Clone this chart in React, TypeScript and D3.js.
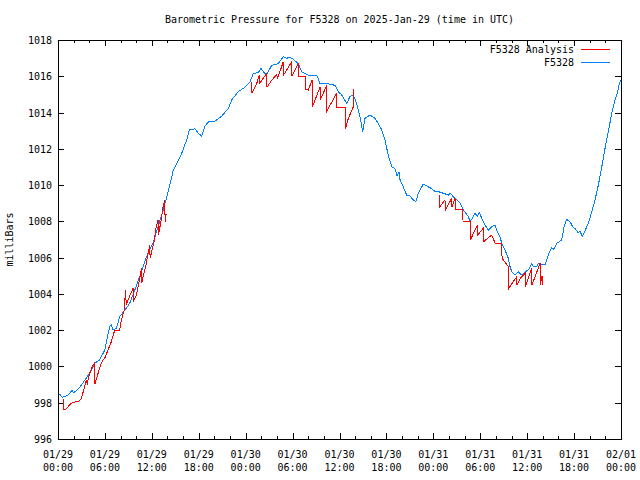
import React from "react";
import * as d3 from "d3";

const title = "Barometric Pressure for F5328 on 2025-Jan-29 (time in UTC)";
const yLabel = "milliBars";
const yTicks = [996, 998, 1000, 1002, 1004, 1006, 1008, 1010, 1012, 1014, 1016, 1018];
const xTickHours = [0, 6, 12, 18, 24, 30, 36, 42, 48, 54, 60, 66, 72];
const xTickDates = ["01/29", "01/29", "01/29", "01/29", "01/30", "01/30", "01/30", "01/30", "01/31", "01/31", "01/31", "01/31", "02/01"];
const xTickTimes = ["00:00", "06:00", "12:00", "18:00", "00:00", "06:00", "12:00", "18:00", "00:00", "06:00", "12:00", "18:00", "00:00"];
const seriesNames = ["F5328 Analysis", "F5328"];

// [hours since 01/29 00:00 UTC, pressure mb]
const stationSeries: [number, number][] = [
  [0.22, 998.48], [0.51, 998.3], [1.06, 998.37], [1.5, 998.5], [1.79, 998.7], [1.98, 998.55],
  [2.56, 998.74], [3.2, 999.1], [3.84, 999.5], [4.26, 999.8], [4.69, 1000.17], [5.33, 1000.36],
  [5.97, 1000.9], [6.61, 1002.2], [6.82, 1002.3], [7.03, 1002.0], [7.46, 1002.1], [7.89, 1002.74],
  [8.53, 1003.1], [9.17, 1003.48], [9.81, 1004.2], [10.45, 1004.95], [11.09, 1005.78], [11.51, 1006.24],
  [12.15, 1006.8], [12.79, 1007.7], [13.43, 1008.6], [14.07, 1009.6], [14.75, 1010.83], [15.82, 1011.75],
  [16.46, 1012.5], [16.79, 1013.04], [17.52, 1013.1], [17.94, 1012.86], [18.38, 1012.7], [18.8, 1013.26],
  [19.35, 1013.53], [20.08, 1013.53], [20.94, 1013.8], [21.78, 1014.23], [22.22, 1014.7], [23.06, 1015.15],
  [23.92, 1015.4], [24.56, 1015.7], [24.98, 1016.16], [25.62, 1016.2], [25.95, 1016.45], [26.33, 1016.2],
  [26.69, 1016.1], [27.33, 1016.6], [28.17, 1016.7], [28.81, 1017.08], [29.24, 1016.99], [29.66, 1017.05],
  [30.09, 1016.93], [30.73, 1016.7], [31.17, 1016.25], [32.01, 1016.07], [33.09, 1016.07], [33.51, 1015.6],
  [34.36, 1015.6], [35.43, 1015.5], [35.85, 1015.15], [36.28, 1014.97], [36.92, 1014.5], [37.34, 1014.88],
  [37.77, 1014.97], [38.2, 1014.5], [38.62, 1013.77], [38.97, 1012.94], [39.26, 1013.68], [39.9, 1013.86],
  [40.54, 1013.68], [40.96, 1013.4], [41.4, 1013.04], [41.82, 1012.5], [42.04, 1012.03], [42.33, 1011.5],
  [42.72, 1011.0], [43.1, 1010.9], [43.36, 1010.5], [43.61, 1010.7], [43.74, 1010.3], [44.16, 1009.9],
  [44.59, 1009.45], [45.01, 1009.4], [45.44, 1009.18], [45.78, 1009.1], [46.08, 1009.55], [46.72, 1010.06],
  [47.16, 1009.95], [47.79, 1009.8], [48.22, 1009.64], [48.64, 1009.64], [49.28, 1009.55], [49.92, 1009.45],
  [50.14, 1009.55], [50.56, 1009.36], [51.0, 1009.18], [51.42, 1009.0], [51.84, 1008.63], [52.48, 1008.26],
  [52.7, 1007.98], [53.12, 1008.26], [53.34, 1008.45], [53.63, 1008.26], [53.88, 1008.48], [54.19, 1008.17],
  [54.61, 1007.8], [55.03, 1007.52], [55.47, 1007.7], [55.89, 1007.8], [56.1, 1007.52], [56.53, 1007.15],
  [56.75, 1006.79], [57.17, 1006.42], [57.59, 1005.96], [57.81, 1005.5], [58.03, 1005.22], [58.45, 1005.04],
  [58.87, 1005.22], [59.31, 1005.04], [59.73, 1005.22], [60.15, 1005.32], [60.58, 1005.69], [60.79, 1005.5],
  [61.22, 1005.5], [61.43, 1005.69], [61.86, 1005.6], [62.28, 1005.6], [62.5, 1005.87], [62.7, 1006.15],
  [63.14, 1006.55], [63.43, 1006.46], [63.78, 1006.79], [64.11, 1006.88], [64.42, 1006.97], [64.72, 1007.7],
  [65.06, 1008.11], [65.48, 1007.98], [65.83, 1007.7], [66.12, 1007.6], [66.54, 1007.37], [66.76, 1007.45],
  [67.05, 1007.19], [67.4, 1007.48], [67.82, 1007.89], [68.26, 1008.53], [68.68, 1009.18], [69.1, 1010.0],
  [69.54, 1011.0], [69.96, 1012.03], [70.38, 1012.94], [70.81, 1013.96], [71.23, 1014.7], [71.53, 1015.06],
  [71.79, 1015.6], [72.0, 1015.8],
];

const analysisSeg1: [number, number][] = [
  [0.64, 998.19], [0.66, 997.6], [0.93, 997.6], [1.28, 997.78], [1.7, 997.97], [2.34, 998.06],
  [2.78, 998.11], [2.98, 998.24], [3.41, 998.88], [3.62, 999.25], [3.75, 999.0], [3.88, 999.35],
  [4.05, 999.62], [4.48, 1000.08], [4.69, 1000.2], [4.72, 999.03], [5.12, 999.62], [5.54, 1000.2],
  [5.76, 1000.36], [5.97, 1000.45], [6.39, 1000.9], [6.82, 1001.37], [7.25, 1002.0], [7.89, 1002.0],
  [8.1, 1002.56], [8.53, 1003.2], [8.6, 1004.2], [8.75, 1003.4], [9.17, 1003.9], [9.6, 1004.3],
  [9.65, 1003.6], [10.01, 1003.9], [10.45, 1004.86], [10.66, 1005.4], [10.7, 1004.6], [11.25, 1005.6],
  [11.73, 1006.7], [11.78, 1005.96], [12.28, 1006.88], [12.53, 1007.6], [12.79, 1008.08], [12.84, 1007.25],
  [13.17, 1008.0], [13.43, 1008.8], [13.65, 1009.18], [13.7, 1007.98], [13.75, 1008.4], [13.95, 1008.4],
];

const analysisSeg2: [number, number][] = [
  [24.77, 1015.7], [24.8, 1015.06], [25.41, 1015.6], [25.74, 1016.07], [25.78, 1015.6], [26.69, 1016.16],
  [26.73, 1015.4], [27.37, 1015.8], [27.96, 1016.1], [28.1, 1015.9], [28.81, 1016.8], [28.85, 1016.07],
  [29.88, 1016.8], [29.92, 1016.0], [30.73, 1016.7], [30.77, 1015.98], [31.59, 1015.98], [31.63, 1015.3],
  [32.01, 1015.24], [32.5, 1015.8], [32.54, 1014.32], [33.51, 1015.4], [33.55, 1014.7], [34.36, 1015.5],
  [34.4, 1014.1], [35.64, 1015.06], [35.68, 1014.3], [36.71, 1014.3], [36.75, 1013.1], [37.13, 1013.68],
  [37.77, 1014.32], [37.81, 1015.28], [37.85, 1014.7],
];

const analysisSeg3: [number, number][] = [
  [48.77, 1009.45], [48.81, 1008.8], [49.49, 1009.18], [49.53, 1008.63], [50.35, 1009.27], [50.39, 1008.8],
  [50.77, 1009.27], [50.81, 1008.66], [51.76, 1008.66], [51.8, 1007.98], [52.7, 1007.98], [52.74, 1006.97],
  [53.63, 1007.8], [53.67, 1007.25], [54.39, 1007.62], [54.43, 1006.88], [55.47, 1007.25], [55.9, 1006.79],
  [56.75, 1006.79], [56.79, 1005.96], [57.59, 1005.5], [57.63, 1004.3], [58.66, 1004.95], [58.7, 1004.5],
  [59.2, 1004.9], [59.73, 1005.13], [59.77, 1004.4], [60.58, 1005.4], [60.62, 1004.5], [61.65, 1005.69],
  [61.69, 1004.5], [61.9, 1005.0], [61.94, 1004.5],
];

const W = 640;
const H = 480;
const L = 58;
const R = 621;
const T = 40;
const B = 439;
const FONT = "'DejaVu Sans Mono', 'Liberation Mono', monospace";
const RED = "#ff0000";
const BLUE = "#0080ff";

export default function App() {
  const x = d3.scaleLinear().domain([0, 72]).range([L, R]);
  const y = d3.scaleLinear().domain([996, 1018]).range([B, T]);
  const line = d3
    .line<[number, number]>()
    .x((d) => x(d[0]))
    .y((d) => y(d[1]));

  const minorHours = d3.range(0, 73, 2);

  return (
    <svg
      width={W}
      height={H}
      style={{ position: "absolute", left: 0, top: 0, background: "#fff" }}
      fontFamily={FONT}
      fontSize={10}
    >
      <rect x={0} y={0} width={W} height={H} fill="#fff" />
      <text x={(L + R) / 2} y={23} textAnchor="middle" fill="#000">
        {title}
      </text>
      <text
        transform={`translate(13,${(T + B) / 2}) rotate(-90)`}
        textAnchor="middle"
        fill="#000"
      >
        {yLabel}
      </text>

      {/* ticks */}
      <g stroke="#000" strokeWidth={1} shapeRendering="crispEdges">
        {yTicks.map((v) => (
          <g key={"yt" + v}>
            <line x1={L} x2={L + 6} y1={Math.round(y(v)) + 0.5} y2={Math.round(y(v)) + 0.5} />
            <line x1={R - 6} x2={R} y1={Math.round(y(v)) + 0.5} y2={Math.round(y(v)) + 0.5} />
          </g>
        ))}
        {minorHours.map((h) => {
          const len = h % 6 === 0 ? 6 : 3;
          const xx = Math.round(x(h)) + 0.5;
          return (
            <g key={"xt" + h}>
              <line x1={xx} x2={xx} y1={B} y2={B - len} />
              <line x1={xx} x2={xx} y1={T} y2={T + len} />
            </g>
          );
        })}
        <rect x={L + 0.5} y={T + 0.5} width={R - L} height={B - T} fill="none" />
      </g>

      {yTicks.map((v) => (
        <text key={"yl" + v} x={L - 6} y={y(v) + 4} textAnchor="end" fill="#000">
          {v}
        </text>
      ))}
      {xTickHours.map((h, i) => (
        <g key={"xl" + h}>
          <text x={x(h)} y={458} textAnchor="middle" fill="#000">
            {xTickDates[i]}
          </text>
          <text x={x(h)} y={471} textAnchor="middle" fill="#000">
            {xTickTimes[i]}
          </text>
        </g>
      ))}

      {/* series */}
      <path d={line(stationSeries) || ""} fill="none" stroke={BLUE} strokeWidth={1} shapeRendering="crispEdges" />
      {[analysisSeg1, analysisSeg2, analysisSeg3].map((seg, i) => (
        <path key={"an" + i} d={line(seg) || ""} fill="none" stroke={RED} strokeWidth={1} shapeRendering="crispEdges" />
      ))}

      {/* legend */}
      <text x={574} y={53} textAnchor="end" fill="#000">
        {seriesNames[0]}
      </text>
      <line x1={581} x2={610} y1={49.5} y2={49.5} stroke={RED} strokeWidth={1} shapeRendering="crispEdges" />
      <text x={574} y={66} textAnchor="end" fill="#000">
        {seriesNames[1]}
      </text>
      <line x1={581} x2={610} y1={62.5} y2={62.5} stroke={BLUE} strokeWidth={1} shapeRendering="crispEdges" />
    </svg>
  );
}
